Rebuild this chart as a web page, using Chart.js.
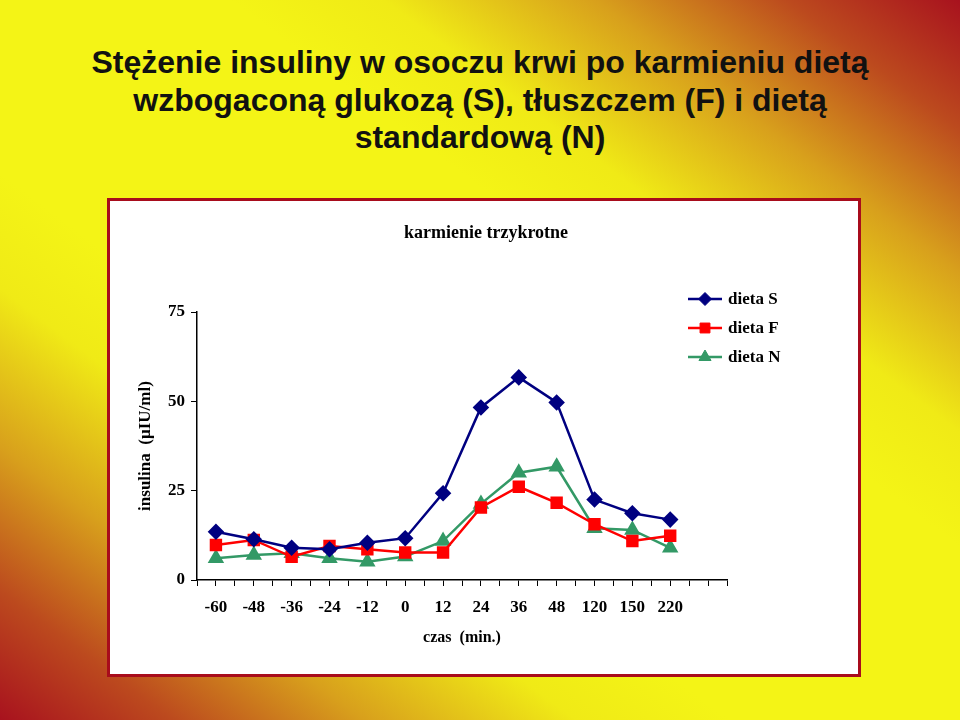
<!DOCTYPE html>
<html lang="pl">
<head>
  <meta charset="UTF-8">
  <title>Stężenie insuliny</title>
  <script src="https://cdn.jsdelivr.net/npm/chart.js"></script>
  <style>
    body {
      margin: 0;
      width: 960px;
      height: 720px;
      overflow: hidden;
      position: relative;
      background: linear-gradient(to top right, #a8121e 0%, #bc4a1e 9%, #d8a01c 19%, #f0ea16 30%, #f4f416 38%, #f4f416 62%, #f0ea16 70%, #d8a01c 81%, #bc4a1e 91%, #a8121e 100%);
    }
    #title {
      position: absolute;
      left: 0;
      top: 44px;
      width: 960px;
      text-align: center;
      font-family: "Liberation Sans", Arial, sans-serif;
      font-weight: bold;
      font-size: 32px;
      line-height: 37.5px;
      color: #111;
    }
    #box {
      position: absolute;
      left: 107px;
      top: 198px;
      width: 748px;
      height: 473px;
      border: 3px solid #a80c1c;
      background: #fff;
    }
  </style>
</head>
<body>
  <div id="title">Stężenie insuliny w osoczu krwi po karmieniu dietą<br>wzbogaconą glukozą (S), tłuszczem (F) i dietą<br>standardową (N)</div>
  <div id="box"><canvas id="chart" width="748" height="473"></canvas></div>

  <script>
    // time points (min) - the axis has one extra empty slot at the end
    const czas = ["-60", "-48", "-36", "-24", "-12", "0", "12", "24", "36", "48", "120", "150", "220"];
    const slots = 14;

    const dietaS = [13.5, 11.4, 9.0, 8.6, 10.4, 11.7, 24.3, 48.3, 56.7, 49.7, 22.5, 18.7, 16.9];
    const dietaF = [9.8, 11.2, 6.5, 9.5, 8.6, 7.7, 7.7, 20.3, 26.1, 21.6, 15.6, 10.9, 12.4];
    const dietaN = [6.1, 7.0, 7.5, 6.1, 5.1, 6.6, 10.9, 21.3, 30.0, 31.7, 14.5, 14.0, 9.0];

    const yTicks = [0, 25, 50, 75];

    function toPoints(values) {
      return values.map((v, i) => ({ x: i + 0.5, y: v }));
    }

    const serif = "'Liberation Serif', 'Times New Roman', serif";

    // chart title centred on the whole white box, not only the plot
    const boxTitle = {
      id: 'boxTitle',
      afterDraw(chart, args, opts) {
        const ctx = chart.ctx;
        ctx.save();
        ctx.fillStyle = '#000';
        ctx.font = "bold 18px " + serif;
        ctx.textAlign = 'center';
        ctx.textBaseline = 'middle';
        ctx.fillText(opts.text, chart.width / 2 + 2, opts.y);
        ctx.restore();
      }
    };

    // legend drawn inside the plot area, line + marker like the spreadsheet one
    const lineLegend = {
      id: 'lineLegend',
      afterDraw(chart, args, opts) {
        const ctx = chart.ctx;
        ctx.save();
        chart.data.datasets.forEach((ds, i) => {
          const y = opts.y + i * opts.gap;
          ctx.strokeStyle = ds.borderColor;
          ctx.lineWidth = ds.borderWidth;
          ctx.beginPath();
          ctx.moveTo(opts.x, y);
          ctx.lineTo(opts.x + opts.len, y);
          ctx.stroke();
          ctx.fillStyle = ds.pointBackgroundColor;
          ctx.strokeStyle = ds.pointBorderColor;
          ctx.lineWidth = 1;
          Chart.helpers.drawPoint(ctx, { pointStyle: ds.pointStyle, radius: ds.pointRadius, borderWidth: 1 }, opts.x + opts.len / 2, y);
          ctx.fillStyle = '#000';
          ctx.font = "bold 17px " + serif;
          ctx.textBaseline = 'middle';
          ctx.fillText(ds.label, opts.x + opts.len + 6, y + 1);
        });
        ctx.restore();
      }
    };

    new Chart(document.getElementById("chart"), {
      type: 'line',
      data: {
        datasets: [
          {
            label: 'dieta S',
            data: toPoints(dietaS),
            borderColor: '#000080',
            borderWidth: 2.5,
            pointStyle: 'rectRot',
            pointRadius: 6.5,
            pointBackgroundColor: '#000080',
            pointBorderColor: '#000080'
          },
          {
            label: 'dieta F',
            data: toPoints(dietaF),
            borderColor: '#ff0000',
            borderWidth: 2.5,
            pointStyle: 'rect',
            pointRadius: 7,
            pointBackgroundColor: '#ff0000',
            pointBorderColor: '#ff0000'
          },
          {
            label: 'dieta N',
            data: toPoints(dietaN),
            borderColor: '#339966',
            borderWidth: 2.5,
            pointStyle: 'triangle',
            pointRadius: 7,
            pointBackgroundColor: '#339966',
            pointBorderColor: '#339966'
          }
        ]
      },
      options: {
        responsive: false,
        animation: false,
        layout: { padding: { left: 0, right: 131, top: 111, bottom: 0 } },
        plugins: {
          legend: { display: false },
          tooltip: { enabled: false },
          title: { display: false },
          boxTitle: { text: 'karmienie trzykrotne', y: 32 },
          lineLegend: { x: 578, y: 98, len: 34, gap: 29 }
        },
        scales: {
          x: {
            type: 'linear',
            min: 0,
            max: slots,
            afterFit(scale) { scale.height = 94; },
            grid: { drawOnChartArea: false, tickLength: 6, color: '#000', lineWidth: 1 },
            border: { display: true, color: '#000', width: 1.5 },
            ticks: {
              stepSize: 0.5,
              autoSkip: false,
              maxRotation: 0,
              padding: 11,
              color: '#000',
              font: { family: serif, size: 17, weight: 'bold' },
              callback: (v) => {
                const i = v - 0.5;
                return Number.isInteger(i) && czas[i] !== undefined ? czas[i] : '';
              }
            },
            title: {
              display: true,
              text: 'czas  (min.)',
              color: '#000',
              font: { family: serif, size: 16, weight: 'bold' },
              padding: { top: 0, bottom: 27 }
            }
          },
          y: {
            min: 0,
            max: 75,
            afterFit(scale) { scale.width = 87; },
            afterBuildTicks(scale) { scale.ticks = yTicks.map(v => ({ value: v })); },
            grid: { drawOnChartArea: false, tickLength: 6, color: '#000', lineWidth: 1 },
            border: { display: true, color: '#000', width: 1.5 },
            ticks: {
              padding: 6,
              color: '#000',
              font: { family: serif, size: 17, weight: 'bold' }
            },
            title: {
              display: true,
              text: 'insulina  (µIU/ml)',
              color: '#000',
              font: { family: serif, size: 17, weight: 'bold' },
              padding: { top: 25, bottom: 0 }
            }
          }
        }
      },
      plugins: [boxTitle, lineLegend]
    });
  </script>
</body>
</html>
